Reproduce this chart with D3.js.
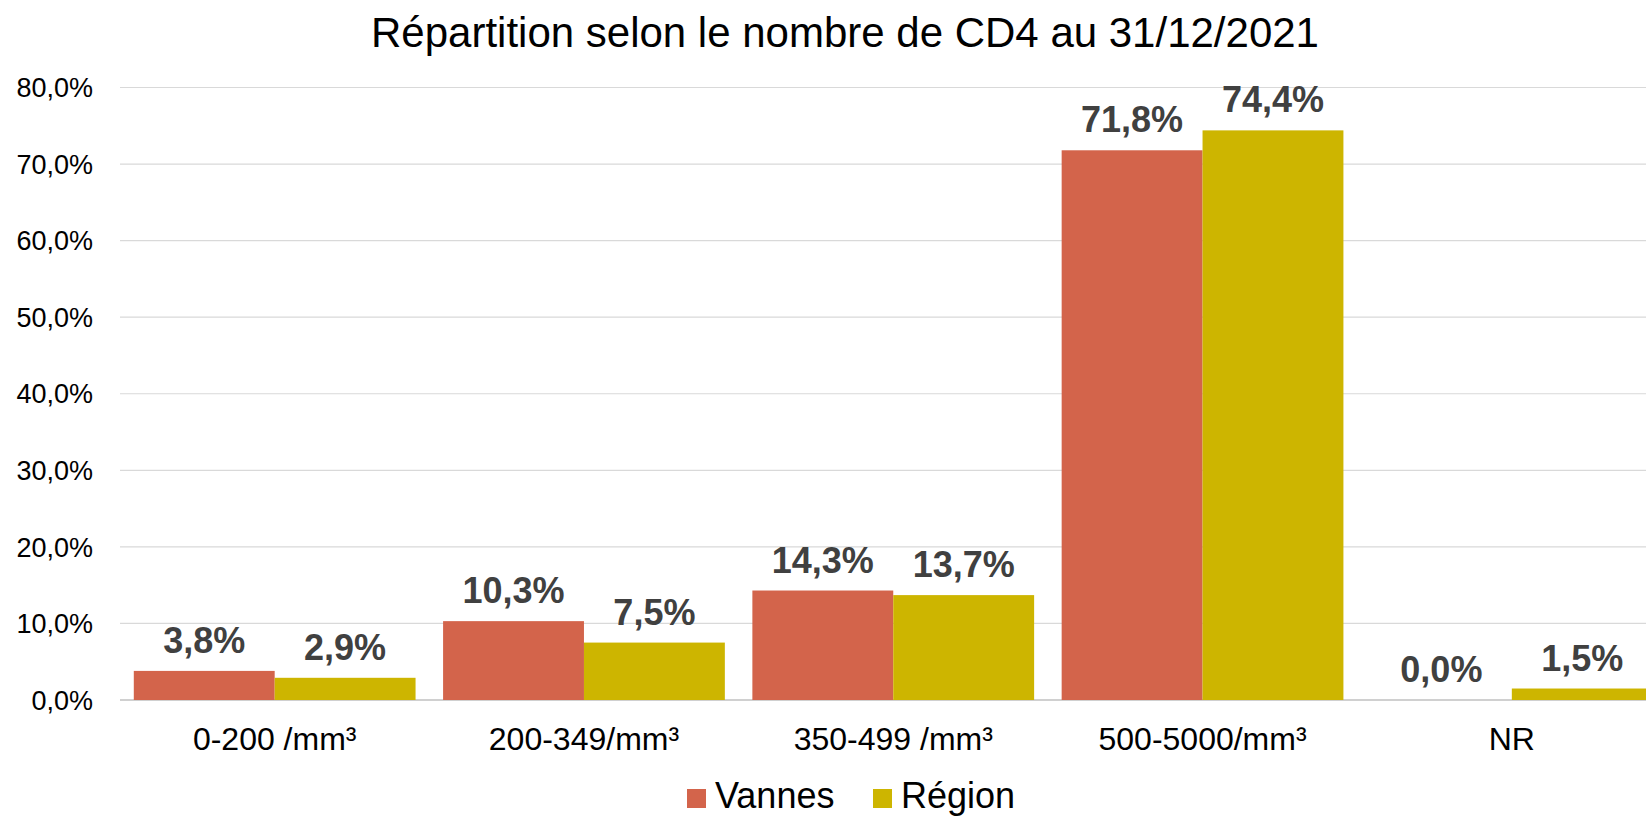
<!DOCTYPE html>
<html>
<head>
<meta charset="utf-8">
<script src="https://cdn.jsdelivr.net/npm/d3@7"></script>
<style>
  body { margin: 0; background: #fff; }
  svg { display: block; font-family: "Liberation Sans", Arial, sans-serif; }
</style>
</head>
<body>
<svg id="chart" width="1646" height="816"></svg>
<script>
const categories = ["0-200 /mm³", "200-349/mm³", "350-499 /mm³", "500-5000/mm³", "NR"];
const seriesNames = ["Vannes", "Région"];
const vannes = [3.8, 10.3, 14.3, 71.8, 0.0];
const region = [2.9, 7.5, 13.7, 74.4, 1.5];
const yTicks = [0, 10, 20, 30, 40, 50, 60, 70, 80];
const colors = ["#d3644b", "#cdb500"];

const svg = d3.select("#chart");
const fmt = (v) => d3.format(".1f")(v).replace(".", ",") + "%";

const x = d3.scaleBand()
  .domain(categories)
  .range([120, 1666.5])
  .paddingInner(0.089)
  .paddingOuter(0.0446);

const x1 = d3.scaleBand()
  .domain(seriesNames)
  .range([0, x.bandwidth()]);

const y = d3.scaleLinear().domain([0, 80]).range([700, 87.5]);

// title
svg.append("text")
  .attr("x", 845)
  .attr("y", 47)
  .attr("text-anchor", "middle")
  .attr("font-size", 42)
  .attr("fill", "#000")
  .text("Répartition selon le nombre de CD4 au 31/12/2021");

// gridlines
svg.append("g")
  .selectAll("line")
  .data(yTicks)
  .join("line")
  .attr("x1", 120)
  .attr("x2", 1646)
  .attr("y1", (d) => y(d))
  .attr("y2", (d) => y(d))
  .attr("stroke", (d) => (d === 0 ? "#d0d0d0" : "#d9d9d9"))
  .attr("stroke-width", (d) => (d === 0 ? 2 : 1.2));

// y labels
svg.append("g")
  .selectAll("text")
  .data(yTicks)
  .join("text")
  .attr("x", 93)
  .attr("y", (d) => y(d))
  .attr("dy", "0.36em")
  .attr("text-anchor", "end")
  .attr("font-size", 27)
  .attr("fill", "#000")
  .text((d) => fmt(d));

const rows = categories.map((c, i) => ({
  cat: c,
  values: [
    { key: "Vannes", value: vannes[i], color: colors[0] },
    { key: "Région", value: region[i], color: colors[1] },
  ],
}));

const groups = svg.append("g")
  .selectAll("g")
  .data(rows)
  .join("g")
  .attr("transform", (d) => `translate(${x(d.cat)},0)`);

groups.selectAll("rect")
  .data((d) => d.values)
  .join("rect")
  .attr("x", (d) => x1(d.key))
  .attr("width", x1.bandwidth())
  .attr("y", (d) => y(d.value))
  .attr("height", (d) => y(0) - y(d.value))
  .attr("fill", (d) => d.color);

groups.selectAll("text")
  .data((d) => d.values)
  .join("text")
  .attr("x", (d) => x1(d.key) + x1.bandwidth() / 2)
  .attr("y", (d) => y(d.value) - 18)
  .attr("text-anchor", "middle")
  .attr("font-size", 36)
  .attr("font-weight", "bold")
  .attr("fill", "#404040")
  .text((d) => fmt(d.value));

// x labels
svg.append("g")
  .selectAll("text")
  .data(categories)
  .join("text")
  .attr("x", (d) => x(d) + x.bandwidth() / 2)
  .attr("y", 750)
  .attr("text-anchor", "middle")
  .attr("font-size", 32)
  .attr("fill", "#000")
  .text((d) => d);

// legend
const legendX = [687, 873];
const legend = svg.append("g")
  .selectAll("g")
  .data(seriesNames)
  .join("g")
  .attr("transform", (d, i) => `translate(${legendX[i]},0)`);

legend.append("rect")
  .attr("x", 0)
  .attr("y", 789)
  .attr("width", 19)
  .attr("height", 19)
  .attr("fill", (d, i) => colors[i]);

legend.append("text")
  .attr("x", 28)
  .attr("y", 808)
  .attr("font-size", 36)
  .attr("fill", "#000")
  .text((d) => d);
</script>
</body>
</html>
